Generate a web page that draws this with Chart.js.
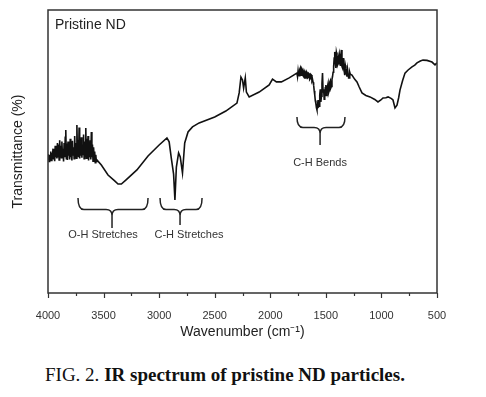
<!DOCTYPE html>
<html>
<head>
<meta charset="utf-8">
<script src="https://cdn.jsdelivr.net/npm/chart.js@4.4.1/dist/chart.umd.min.js"></script>
<style>
  html, body { margin: 0; padding: 0; background: #fff; }
  #wrap { position: relative; width: 486px; height: 397px; }
  #chart-wrap { position: absolute; left: 0; top: 0; width: 486px; height: 345px; }
  #caption {
    position: absolute; left: 45px; top: 364px;
    font-family: 'Liberation Serif', 'Times New Roman', serif;
    font-size: 19px; line-height: 22px; color: #111; white-space: nowrap;
  }
</style>
</head>
<body>
<div id="wrap">
  <div id="chart-wrap"><canvas id="chart-ir"></canvas></div>
  <div id="caption">FIG. 2. <b>IR spectrum of pristine ND particles.</b></div>
</div>
<script>
/* =========================================
   DATA
   ========================================= */
const wavenumbers = [
    // O-H region (noisy)
    4000, 3995, 3990, 3985, 3980, 3975, 3970, 3965, 3960, 3955,
    3950, 3945, 3940, 3935, 3930, 3925, 3920, 3915, 3910, 3905,
    3900, 3895, 3890, 3885, 3880, 3875, 3870, 3865, 3860, 3855,
    3850, 3845, 3840, 3835, 3830, 3825, 3820, 3815, 3810, 3805,
    3800, 3795, 3790, 3785, 3780, 3775, 3770, 3765, 3760, 3755,
    3750, 3745, 3740, 3735, 3730, 3725, 3720, 3715, 3710, 3705,
    3700, 3695, 3690, 3685, 3680, 3675, 3670, 3665, 3660, 3655,
    3650, 3645, 3640, 3635, 3630, 3625, 3620, 3615, 3610, 3605,
    3600, 3595, 3590, 3585, 3580, 3575, 3570, 3565, 3560,
    // O-H valley, C-H stretches, up to 1790
    3520, 3460, 3400, 3370, 3340, 3300, 3200, 3100, 3000, 2930,
    2910, 2890, 2870, 2858, 2845, 2825, 2810, 2790, 2770, 2740,
    2700, 2640, 2500, 2400, 2300, 2280, 2264, 2250, 2240, 2225,
    2215, 2190, 2100, 2010, 1980, 1945, 1900, 1830, 1790,
    // C-H bends (noisy)
    1760, 1755, 1750, 1745, 1740, 1735, 1730, 1725, 1720, 1715,
    1710, 1705, 1700, 1695, 1690, 1685, 1680, 1675, 1670, 1665,
    1660, 1655, 1650, 1645, 1640, 1635, 1630, 1625, 1620, 1615,
    1610, 1605, 1600, 1595, 1590, 1585, 1580, 1575, 1570, 1565,
    1560, 1555, 1550, 1545, 1540, 1535, 1530, 1525, 1520, 1515,
    1510, 1505, 1500, 1495, 1490, 1485, 1480, 1475, 1470, 1465,
    1460, 1455, 1450, 1445, 1440, 1435, 1430, 1425, 1420, 1415,
    1410, 1405, 1400, 1395, 1390, 1385, 1380, 1375, 1370, 1365,
    1360, 1355, 1350, 1345, 1340, 1335, 1330, 1325, 1320, 1315,
    1310, 1305, 1300, 1295, 1290, 1285, 1280,
    // fingerprint tail
    1265, 1240, 1220, 1200, 1175, 1140, 1103, 1060, 1031, 1005,
    986, 960, 940, 910, 896, 878, 860, 845, 833, 810,
    788, 760, 725, 700, 680, 650, 626, 590, 545, 518, 500
];
const transmittance = [
    47.3, 49.0, 46.5, 48.8, 47.0, 50.0, 46.8, 49.5, 47.8, 51.0,
    47.2, 50.5, 46.6, 52.0, 48.0, 51.5, 47.5, 53.0, 48.2, 52.5,
    47.0, 54.0, 49.0, 52.0, 47.8, 53.5, 48.5, 51.0, 46.5, 53.0,
    48.0, 55.0, 57.6, 47.5, 52.8, 47.0, 53.5, 48.5, 52.0, 47.2,
    54.5, 48.0, 52.5, 46.8, 53.8, 48.8, 51.5, 47.5, 55.5, 48.2,
    53.0, 47.6, 59.4, 49.0, 54.0, 48.0, 58.5, 47.5, 53.0, 48.5,
    55.0, 47.8, 52.5, 49.0, 56.0, 47.5, 53.5, 48.5, 58.3, 47.6,
    54.5, 48.8, 55.5, 46.8, 52.0, 48.0, 54.0, 47.2, 56.9, 48.0,
    52.5, 46.6, 51.5, 47.5, 50.0, 46.0, 48.8, 46.5, 47.0,

    45.2, 41.7, 39.6, 38.5, 38.5, 39.9, 43.5, 48.4, 52.3, 54.8,
    53.4, 47.5, 42.0, 32.9, 44.5, 49.5, 48.1, 42.4, 53.0, 56.9,
    58.7, 60.1, 62.2, 64.3, 67.1, 70.7, 76.3, 75.3, 72.4, 76.0,
    71.0, 69.3, 71.0, 73.5, 75.6, 74.6, 74.6, 76.0, 77.0,

    77.7, 76.5, 78.5, 77.0, 76.8, 79.0, 79.5, 77.0, 77.0, 79.2,
    78.8, 76.8, 76.5, 78.5, 78.0, 76.0, 76.9, 78.2, 77.8, 76.0,
    76.2, 77.6, 77.4, 75.5, 75.8, 77.2, 77.0, 75.0, 75.5, 74.5,
    73.5, 71.5, 70.0, 68.0, 67.0, 65.5, 64.7, 66.5, 68.2, 65.8,
    66.0, 70.0, 72.0, 67.5, 69.5, 74.0, 77.7, 71.0, 72.0, 68.5,
    69.3, 72.5, 73.5, 69.8, 70.5, 73.0, 74.0, 70.8, 71.5, 74.5,
    75.0, 72.5, 73.0, 75.5, 76.5, 78.0, 80.0, 83.0, 85.2, 81.5,
    79.5, 85.0, 84.0, 80.5, 81.0, 83.5, 84.5, 82.0, 80.5, 84.0,
    85.9, 80.0, 79.5, 83.0, 81.5, 78.5, 77.0, 80.5, 79.5, 77.5,
    76.5, 79.0, 77.5, 76.0, 76.0, 78.0, 77.3,

    77.0, 75.5, 74.6, 72.8, 70.7, 69.8, 69.3, 68.4, 67.5, 68.2,
    68.9, 69.0, 69.3, 68.7, 68.2, 65.4, 66.4, 69.0, 71.7, 75.0,
    77.7, 78.8, 79.9, 80.5, 81.3, 82.0, 82.3, 82.2, 81.6, 80.6, 81.3
];

// Axis range and tick spacing (cm^-1)
const xMin = 500;
const xMax = 4000;
const xStep = 250;
const xLabelStep = 500;

// Band annotations: brace ends / centre / label centre in cm^-1, heights in %
const bands = [
    { text: 'O-H Stretches', from: 3730, to: 3100, mid: 3424, textAt: 3505, top: 33.6, bar: 29.5, stem: 23.0, label: 20.6 },
    { text: 'C-H Stretches', from: 2992, to: 2614, mid: 2812, textAt: 2731, top: 33.6, bar: 29.5, stem: 24.0, label: 20.6 },
    { text: 'C-H Bends',     from: 1760, to: 1328, mid: 1552, textAt: 1552, top: 62.2, bar: 58.5, stem: 52.3, label: 45.9 }
];

/* =========================================
   PLUGIN: frame, ticks, braces, labels
   ========================================= */
const decorPlugin = {
    id: 'decor',
    afterDraw(chart) {
        const { ctx, chartArea: a, scales: { x, y } } = chart;
        ctx.save();

        // frame
        ctx.strokeStyle = '#333';
        ctx.lineWidth = 1.5;
        ctx.strokeRect(a.left, a.top, a.right - a.left, a.bottom - a.top);

        // ticks below the x axis
        ctx.lineWidth = 1.2;
        x.ticks.forEach(t => {
            const px = Math.round(x.getPixelForValue(t.value)) + 0.5;
            const len = t.value % xLabelStep === 0 ? 5 : 3;
            ctx.beginPath();
            ctx.moveTo(px, a.bottom);
            ctx.lineTo(px, a.bottom + len);
            ctx.stroke();
        });

        // sample name
        ctx.fillStyle = '#222';
        ctx.font = "14px 'Liberation Sans', Arial, sans-serif";
        ctx.textAlign = 'left';
        ctx.textBaseline = 'alphabetic';
        ctx.fillText('Pristine ND', a.left + 7, a.top + 19);

        // braces
        ctx.strokeStyle = '#222';
        ctx.lineWidth = 1.5;
        bands.forEach(b => {
            const x1 = x.getPixelForValue(b.from);
            const x2 = x.getPixelForValue(b.to);
            const xc = x.getPixelForValue(b.mid);
            const yTop = y.getPixelForValue(b.top);
            const yBar = y.getPixelForValue(b.bar);
            const yStem = y.getPixelForValue(b.stem);
            const r = 6;
            ctx.beginPath();
            ctx.moveTo(x1, yTop);
            ctx.quadraticCurveTo(x1, yBar, x1 + r, yBar);
            ctx.lineTo(xc - r, yBar);
            ctx.quadraticCurveTo(xc, yBar, xc, yBar + r);
            ctx.lineTo(xc, yStem);
            ctx.moveTo(x2, yTop);
            ctx.quadraticCurveTo(x2, yBar, x2 - r, yBar);
            ctx.lineTo(xc + r, yBar);
            ctx.quadraticCurveTo(xc, yBar, xc, yBar + r);
            ctx.stroke();

            ctx.fillStyle = '#333';
            ctx.font = "11px 'Liberation Sans', Arial, sans-serif";
            ctx.textAlign = 'center';
            ctx.textBaseline = 'middle';
            ctx.fillText(b.text, x.getPixelForValue(b.textAt), y.getPixelForValue(b.label));
        });

        ctx.restore();
    }
};

/* =========================================
   CHART
   ========================================= */
Chart.defaults.font.family = "'Liberation Sans', Arial, sans-serif";
Chart.defaults.color = '#333';

let charts = {};

function initSpectrum() {
    const el = document.getElementById('chart-ir');
    charts.ir = new Chart(el.getContext('2d'), {
        type: 'line',
        data: {
            datasets: [{
                label: 'Pristine ND',
                data: wavenumbers.map((w, i) => ({ x: w, y: transmittance[i] })),
                borderColor: '#111',
                borderWidth: 1.6,
                pointRadius: 0,
                tension: 0,
                fill: false
            }]
        },
        options: {
            responsive: true,
            maintainAspectRatio: false,
            animation: false,
            layout: { padding: { top: 10, right: 49, left: 0, bottom: 0 } },
            plugins: { legend: { display: false }, tooltip: { enabled: false } },
            scales: {
                x: {
                    type: 'linear',
                    reverse: true,
                    min: xMin,
                    max: xMax,
                    grid: { display: false },
                    border: { display: false },
                    ticks: {
                        stepSize: xStep,
                        autoSkip: false,
                        maxRotation: 0,
                        padding: 8,
                        font: { size: 11 },
                        color: '#333',
                        callback: v => (v % xLabelStep === 0 ? v : '')
                    },
                    title: {
                        display: true,
                        text: 'Wavenumber (cm⁻¹)',
                        font: { size: 14 },
                        color: '#222',
                        padding: { top: 0, bottom: 4 }
                    },
                    afterFit: s => { s.height = 52; }
                },
                y: {
                    min: 0,
                    max: 100,
                    grid: { display: false },
                    border: { display: false },
                    ticks: { display: false },
                    title: {
                        display: true,
                        text: 'Transmittance (%)',
                        font: { size: 14 },
                        color: '#222',
                        padding: { top: 10, bottom: 0 }
                    },
                    afterFit: s => { s.width = 48; }
                }
            }
        },
        plugins: [decorPlugin]
    });
}

document.addEventListener('DOMContentLoaded', initSpectrum);
</script>
</body>
</html>
